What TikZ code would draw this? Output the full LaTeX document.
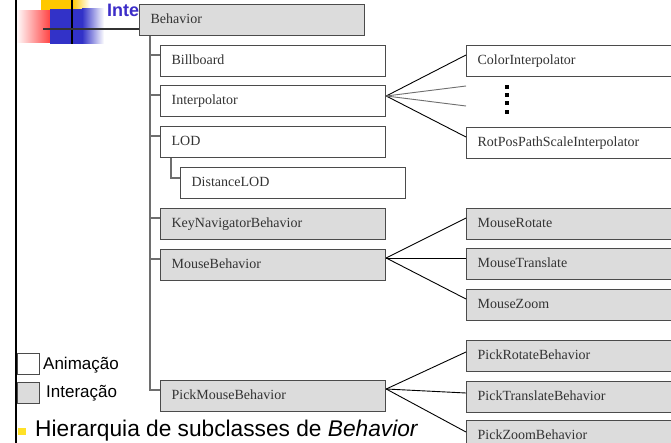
\documentclass[tikz,border=0pt]{standalone}
\usepackage{fontspec}
\setmainfont{Liberation Serif}
\newfontfamily\arialfont{Liberation Sans}
\definecolor{boxgray}{RGB}{220,220,220}
\definecolor{boxline}{RGB}{75,75,75}
\definecolor{treeline}{RGB}{110,110,110}
\definecolor{titleblue}{RGB}{60,45,200}
\definecolor{logoblue}{RGB}{50,50,200}
\definecolor{logored}{RGB}{255,30,30}
\definecolor{logoyellow}{RGB}{255,200,0}
\definecolor{bulletyellow}{RGB}{255,225,40}
\begin{document}
\begin{tikzpicture}[x=1pt, y=-1pt,
	cls/.style={draw=boxline, line width=1.2pt, fill=white, anchor=north west,
		minimum height=31pt, text width=203pt, inner xsep=11pt, inner ysep=0pt,
		align=left, text height=10pt, text depth=3pt,
		font=\fontsize{14}{16}\selectfont, text=black!80},
	gcls/.style={cls, fill=boxgray},
	tree/.style={draw=treeline, line width=1.2pt},
	fan/.style={draw=black, line width=0.9pt},
	legbox/.style={draw=boxline, line width=1.2pt, anchor=north west,
		minimum width=22pt, minimum height=21pt, inner sep=0pt},
	legtext/.style={anchor=base west, inner sep=0pt,
		font=\arialfont\fontsize{17}{19}\selectfont}]
	\clip (0,0) rectangle (671,443);
	\fill[white] (0,0) rectangle (671,443);
	
	% slide logo
	\fill[logoyellow] (41,-2) rectangle (72,30);
	\shade[left color=logoyellow, right color=white] (72,-2) rectangle (90,9);
	\shade[left color=white, right color=logored] (16,11) rectangle (57,43);
	\fill[logoblue] (50,9) rectangle (82,44);
	\shade[left color=logoblue, right color=white] (82,9) rectangle (104,44);
	\draw[line width=2pt] (72,-1) -- (72,44);
	\draw[line width=2pt] (16,0) -- (16,443);
	\node[anchor=base west, inner sep=0pt, text=titleblue,
	font=\arialfont\bfseries\fontsize{18}{20}\selectfont] (title) at (107,17) {Inte};
	
	% classes
	\node[gcls] at (139,4) (beh) {Behavior};
	\node[cls] at (160,45) (bill) {Billboard};
	\node[cls] at (160,85) (interp) {Interpolator};
	\node[cls] at (160,126) (lod) {LOD};
	\node[cls] at (180,167) (dlod) {DistanceLOD};
	\node[gcls] at (160,208) (keynav) {KeyNavigatorBehavior};
	\node[gcls] at (160,249) (mouse) {MouseBehavior};
	\node[gcls] at (160,380) (pick) {PickMouseBehavior};
	
	\node[cls] at (466,45) (color) {ColorInterpolator};
	\node[cls] at (466,127) (rotpos) {RotPosPathScaleInterpolator};
	\node[gcls] at (466,208) (mrot) {MouseRotate};
	\node[gcls] at (466,248) (mtrans) {MouseTranslate};
	\node[gcls] at (466,289) (mzoom) {MouseZoom};
	\node[gcls] at (466,340) (prot) {PickRotateBehavior};
	\node[gcls] at (466,381) (ptrans) {PickTranslateBehavior};
	\node[gcls] at (466,420) (pzoom) {PickZoomBehavior};
	
	\draw[black!80, line width=1.5pt] (43,29) -- (43,29 -| beh.west);
	
	% tree
	\foreach \c in {bill,interp,lod,keynav,mouse,pick}
		\draw[tree] ([xshift=11pt]beh.south west) |- ([yshift=-10pt]\c.north west);
	\draw[tree] ([xshift=11pt]lod.south west) |- ([yshift=-11pt]dlod.north west);
	
	% fans
	\coordinate (gap1) at (466,86);
	\coordinate (gap2) at (466,106);
	\foreach \c in {color,rotpos}
		\draw[fan] ([yshift=-11pt]interp.north east) -- ([yshift=-10pt]\c.north west);
	\draw[fan, draw=treeline] ([yshift=-11pt]interp.north east) -- (gap1);
	\draw[fan, draw=treeline] ([yshift=-11pt]interp.north east) -- (gap2);
	\foreach \y [count=\i] in {87,95,103,112}
		\node[fill=black, minimum size=4.5pt, inner sep=0pt] (dot\i) at (507,\y) {};
	\foreach \c in {mrot,mtrans,mzoom}
		\draw[fan] ([yshift=-9pt]mouse.north east) -- ([yshift=-10pt]\c.north west);
	\foreach \c in {prot,ptrans,pzoom}
		\draw[fan] ([yshift=-9pt]pick.north east) -- ([yshift=-12pt]\c.north west);
	
	% legend
	\node[legbox, fill=white] at (17,353) (anim) {};
	\node[legtext] at (43,369) (animtxt) {Animação};
	\node[legbox, fill=boxgray] at (17,382) (inter) {};
	\node[legtext] at (46,397) (intertxt) {Interação};
	
	\fill[bulletyellow] (18,428) rectangle (26,435);
	\node[anchor=base west, inner sep=0pt, font=\arialfont\fontsize{22.7}{24}\selectfont]
	at (35,436) (caption) {Hierarquia de subclasses de \textit{Behavior}};
\end{tikzpicture}
\end{document}
